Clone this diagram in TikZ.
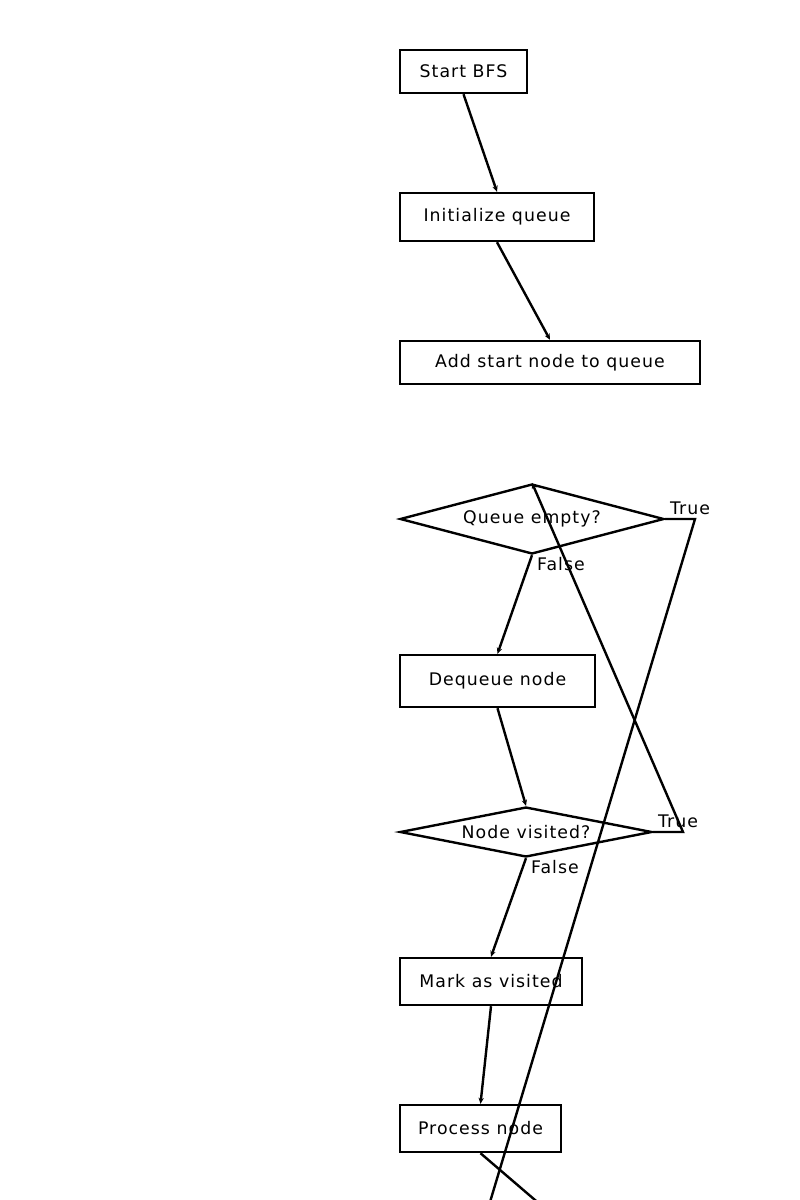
\documentclass[tikz,border=0pt]{standalone}
\usepackage{fontspec}
\setsansfont[LetterSpace=6]{DejaVu Sans}
\usetikzlibrary{shapes.geometric,arrows.meta}
\begin{document}
\begin{tikzpicture}[x=0.75pt,y=-0.75pt,
  every node/.style={font=\sffamily\fontsize{13}{15.5}\selectfont},
  box/.style={draw,line width=1.8pt,rectangle,inner sep=0pt},
  decision/.style={draw,line width=1.8pt,diamond,inner sep=0pt},
  flow/.style={line width=1.8pt,-{Stealth[length=4.5pt,width=4pt]}},
  plain/.style={line width=1.8pt},
  lbl/.style={inner sep=0pt}]
\useasboundingbox (0,0) rectangle (800,1200);
\clip (0,0) rectangle (800,1200);

% process steps
\node[box,minimum width=95.25pt,minimum height=32.25pt]  (start) at (463.5,71.5)  {Start BFS};
\node[box,minimum width=145.5pt,minimum height=36pt]     (init)  at (497,217)     {Initialize queue};
\node[box,minimum width=225pt,minimum height=32.25pt]    (add)   at (550,362.5)   {Add start node to queue};
\node[decision,aspect=6,minimum width=198pt,minimum height=52.5pt] (empty) at (532,519) {Queue empty?};
\node[box,minimum width=146.25pt,minimum height=39pt]    (deq)   at (497.5,681)   {Dequeue node};
\node[decision,aspect=8,minimum width=189pt,minimum height=37.5pt] (vis) at (526,832) {Node visited?};
\node[box,minimum width=136.5pt,minimum height=35.25pt]  (mark)  at (491,981.5)   {Mark as visited};
\node[box,minimum width=120.75pt,minimum height=35.25pt] (proc)  at (480.5,1128.5){Process node};

% bend points and loose ends
\coordinate (emptyT) at (695,519);
\coordinate (visT)   at (683,832);
\coordinate (emptyEnd) at (487,1212);
\coordinate (procEnd)  at (549,1212);

% connectors
\draw[flow] (start.south) -- (init.north);
\draw[flow] (init.south) -- (add.north);
\draw[flow] (empty.south) -- (deq.north);
\draw[plain] (empty.east) -- (emptyT) -- (emptyEnd);
\draw[flow] (deq.south) -- (vis.north);
\draw[flow] (vis.east) -- (visT) -- (empty.north);
\draw[flow] (vis.south) -- (mark.north);
\draw[flow] (mark.south) -- (proc.north);
\draw[plain] (proc.south) -- (procEnd);

% branch labels
\node[lbl] (lt1) at (690,508) {True};
\node[lbl] (lf1) at (561,564) {False};
\node[lbl] (lt2) at (678,821) {True};
\node[lbl] (lf2) at (555,867) {False};
\end{tikzpicture}
\end{document}
